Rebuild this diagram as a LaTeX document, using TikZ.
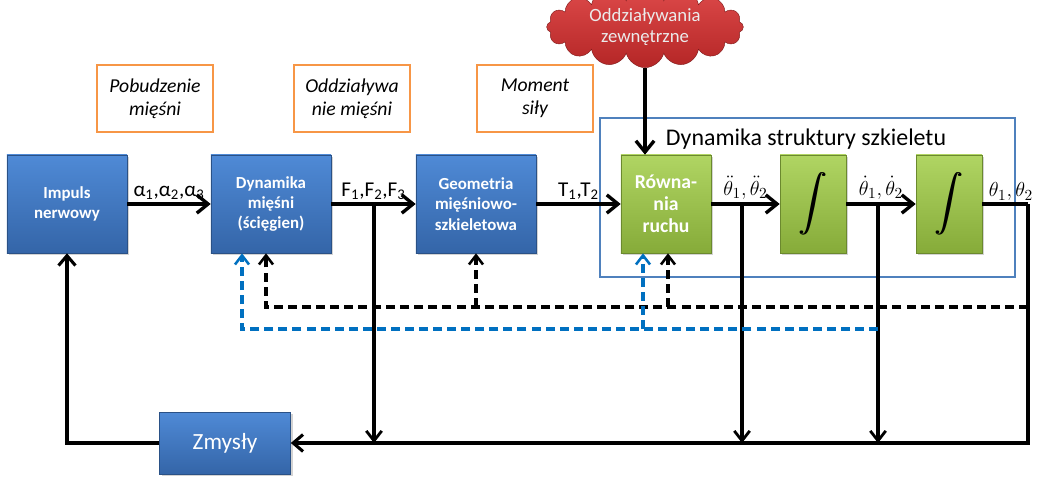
\documentclass[tikz,border=0pt]{standalone}
\usepackage{fontspec}
\setmainfont{Carlito}
\usetikzlibrary{arrows.meta,shapes.symbols,shadows}
\definecolor{niebtop}{HTML}{4F8AD6}
\definecolor{niebbot}{HTML}{3465A8}
\definecolor{zieltop}{HTML}{B0D563}
\definecolor{zielbot}{HTML}{86AB39}
\definecolor{pomar}{HTML}{F79646}
\definecolor{ramkab}{HTML}{4F81BD}
\definecolor{przer}{HTML}{0070C0}
\definecolor{czertop}{HTML}{DE4A4A}
\definecolor{czerbot}{HTML}{B42626}
\newcommand{\calka}{\scalebox{2}{\rlap{$\displaystyle\int$}\kern0.35pt$\displaystyle\int$}}
\begin{document}
\begin{tikzpicture}[x=0.025cm,y=-0.025cm,
  blok/.style={rectangle, minimum width=3cm, minimum height=2.45cm, top color=niebtop, bottom color=niebbot,
    draw=niebbot!80!black, line width=0.4pt, text=white, align=center,
    font=\bfseries\fontsize{12}{14.5}\selectfont, drop shadow={opacity=0.35,shadow xshift=1.5pt,shadow yshift=-1.5pt}},
  zielony/.style={blok, top color=zieltop, bottom color=zielbot, draw=zielbot!80!black, minimum width=1.65cm},
  opis/.style={rectangle, draw=pomar, line width=2pt, minimum width=2.9cm, minimum height=1.675cm, align=center,
    font=\itshape\fontsize{14}{16.5}\selectfont},
  chmura/.style={cloud, cloud puffs=16, aspect=3.6, minimum width=4.9cm, minimum height=1.4cm, inner sep=0pt,
    top color=czertop, bottom color=czerbot, draw=czerbot!70!black, line width=0.3pt, text=white!92!black, align=center,
    font=\fontsize{13.3}{15.5}\selectfont},
  etykieta/.style={above=1pt, inner sep=1pt, font=\fontsize{15}{17}\selectfont},
  glowna/.style={line width=2.8pt, -{Straight Barb[length=8pt,width=13pt,line width=2.4pt]}},
  linia/.style={line width=2.5pt},
  pion/.style={line width=2.5pt, -{Straight Barb[length=7pt,width=11pt,line width=2pt]}},
  kreska/.style={line width=2.2pt, dash pattern=on 6.4pt off 3.6pt, -{Straight Barb[length=6.5pt,width=10pt,line width=1.8pt]}},
  niebieska/.style={kreska, draw=przer}]
\useasboundingbox (0,0) rectangle (1037,487);
% ramka dynamiki szkieletu
\node[draw=ramkab, line width=1.4pt, minimum width=10.375cm, minimum height=3.975cm] (dss) at (807.5,197.5) {};
\node[font=\fontsize{17}{19}\selectfont] (tyt) at (806,139) {Dynamika struktury szkieletu};
% bloki
\node[blok] (imp) at (67,204) {Impuls\\nerwowy};
\node[blok] (dyn) at (271,204) {Dynamika\\mięśni\\(ścięgien)};
\node[blok] (geo) at (476,204) {Geometria\\mięśniowo-\\szkieletowa};
\node[zielony, minimum width=2.25cm, font=\bfseries\fontsize{14}{15.5}\selectfont] (row) at (666,204) {Równa-\\nia\\ruchu};
\node[zielony, text=black] (int1) at (813,204) {\calka};
\node[zielony, text=black] (int2) at (949,204) {\calka};
\node[blok, minimum width=3.275cm, minimum height=1.55cm, font=\fontsize{16.5}{19}\selectfont] (zmy) at (225,443) {Zmysły};
\node[opis] (pob) at (155,98.5) {Pobudzenie\\mięśni};
\node[opis] (odd) at (352,98.5) {Oddziaływa\\nie mięśni};
\node[opis] (mom) at (535,98.5) {Moment\\siły};
\node[chmura] (zew) at (645,27) {Oddziaływania\\zewnętrzne};
% punkty rozgalezien
\coordinate (f) at (374,204);
\coordinate (fd) at (374,443);
\coordinate (a) at (742,204);
\coordinate (ad) at (742,443);
\coordinate (v) at (878,204);
\coordinate (vd) at (878,443);
\coordinate (p) at (1028,204);
\coordinate (pd) at (1028,443);
\coordinate (k0) at (1028,307);
\coordinate (k1) at (266,307);
\coordinate (k2) at (476,307);
\coordinate (k3) at (668,307);
\coordinate (n0) at (878,329);
\coordinate (n1) at (242,329);
\coordinate (n2) at (643,329);
% tor glowny
\draw[glowna] (imp) -- node[etykieta] {α\textsubscript{1},α\textsubscript{2},α\textsubscript{3}} (dyn);
\draw[glowna] (dyn) -- node[etykieta] {F\textsubscript{1},F\textsubscript{2},F\textsubscript{3}} (geo);
\draw[glowna] (geo) -- node[etykieta] {T\textsubscript{1},T\textsubscript{2}} (row);
\draw[glowna] (row) -- node[etykieta] {$\ddot{\theta}_1,\ddot{\theta}_2$} (int1);
\draw[glowna] (int1) -- node[etykieta] {$\dot{\theta}_1,\dot{\theta}_2$} (int2);
\draw[line width=2.8pt] (int2) -- (p);
\node[etykieta] (th) at (1011,204) {$\theta_1,\theta_2$};
\draw[glowna] (zew.south) -- (zew.south |- row.north);
% sprzezenia
\foreach \src/\dst in {f/fd, a/ad, v/vd}
  \draw[pion] (\src) -- (\dst);
\draw[linia, -{Straight Barb[length=7pt,width=12pt,line width=2.2pt]}] (p) -- (pd) -- (zmy);
\draw[linia, line width=2.8pt, -{Straight Barb[length=7pt,width=12pt,line width=2.2pt]}] (zmy) -| (imp);
\draw[kreska] (k0) -- (k1) -- (k1 |- dyn.south);
\draw[kreska] (k2) -- (geo.south);
\draw[kreska] (k3) -- (k3 |- row.south);
\draw[niebieska] (n0) -- (n1) -- (n1 |- dyn.south);
\draw[niebieska] (n2) -- (n2 |- row.south);
\end{tikzpicture}
\end{document}
